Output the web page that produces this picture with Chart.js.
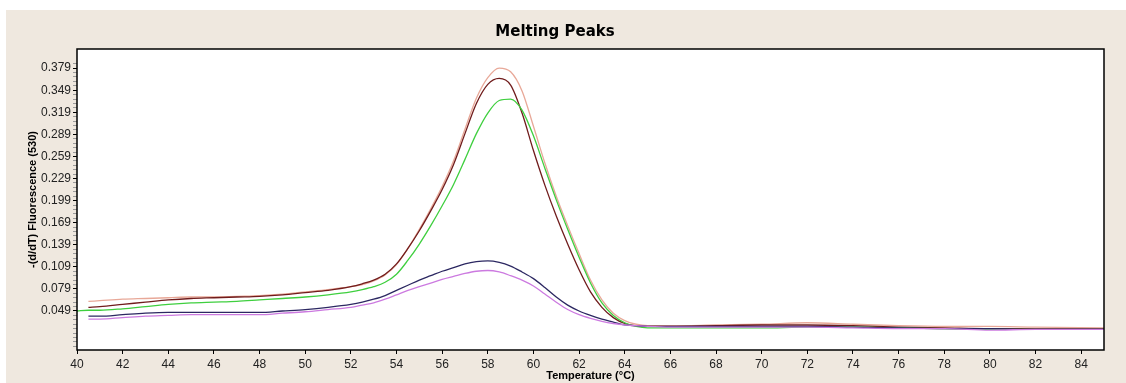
<!DOCTYPE html>
<html>
<head>
<meta charset="utf-8">
<title>Melting Peaks</title>
<script src="https://cdn.jsdelivr.net/npm/chart.js@4.4.1/dist/chart.umd.min.js"></script>
<style>
  html, body { margin: 0; padding: 0; background: #ffffff; }
  #frame { position: absolute; left: 6px; top: 10px; width: 1120px; height: 373px; background: #efe8df; }
  #chartMelt { display: block; }
</style>
</head>
<body>
<div id="frame"><canvas id="chartMelt" width="1120" height="373"></canvas></div>
<script>
// temperaturas (eje x) comunes a todas las curvas
var temps = [40, 40.5, 41, 42, 43, 44, 45, 46, 47, 48, 49, 50, 51, 52, 52.5, 53, 53.5, 54, 54.5, 55,
             55.5, 56, 56.5, 57, 57.5, 58, 58.5, 59, 59.5, 60, 60.5, 61, 61.5, 62, 62.5, 63, 63.5, 64, 64.5, 65,
             66, 68, 70, 72, 74, 76, 78, 80, 82, 85];

// -(d/dT) fluorescencia por muestra
var salmonVals = [null, 0.062, 0.063, 0.065, 0.066, 0.067, 0.068, 0.068, 0.069, 0.070, 0.072, 0.075, 0.078, 0.082, 0.085, 0.090,
                  0.098, 0.112, 0.134, 0.160, 0.188, 0.218, 0.253, 0.296, 0.338, 0.366, 0.379, 0.374, 0.348, 0.300, 0.250,
                  0.205, 0.165, 0.127, 0.091, 0.064, 0.046, 0.036, 0.031, 0.029, 0.029, 0.030, 0.031, 0.033, 0.031, 0.029,
                  0.028, 0.028, 0.027, 0.026];
var brownVals = [null, 0.054, 0.055, 0.058, 0.061, 0.064, 0.066, 0.067, 0.068, 0.069, 0.071, 0.074, 0.077, 0.082, 0.086, 0.091,
                 0.099, 0.113, 0.134, 0.158, 0.185, 0.214, 0.248, 0.290, 0.331, 0.357, 0.365, 0.356, 0.318, 0.267, 0.220,
                 0.178, 0.140, 0.105, 0.075, 0.054, 0.040, 0.032, 0.029, 0.028, 0.028, 0.029, 0.030, 0.030, 0.029, 0.027,
                 0.026, 0.025, 0.025, 0.025];
var greenVals = [0.049, 0.050, 0.050, 0.052, 0.055, 0.058, 0.060, 0.061, 0.062, 0.064, 0.066, 0.068, 0.071, 0.075, 0.078, 0.082,
                 0.088, 0.099, 0.118, 0.140, 0.165, 0.192, 0.221, 0.255, 0.290, 0.318, 0.335, 0.337, 0.322, 0.287, 0.243,
                 0.200, 0.160, 0.122, 0.087, 0.060, 0.043, 0.033, 0.028, 0.026, 0.026, 0.026, 0.026, 0.027, 0.027, 0.026,
                 0.025, 0.024, 0.024, 0.024];
var navyVals = [null, 0.042, 0.042, 0.044, 0.046, 0.047, 0.047, 0.047, 0.047, 0.047, 0.049, 0.051, 0.054, 0.058, 0.061, 0.065,
                0.070, 0.077, 0.084, 0.091, 0.097, 0.103, 0.108, 0.113, 0.116, 0.117, 0.115, 0.110, 0.102, 0.093, 0.081,
                0.068, 0.057, 0.049, 0.043, 0.038, 0.034, 0.030, 0.029, 0.028, 0.028, 0.028, 0.028, 0.028, 0.027, 0.026,
                0.025, 0.025, 0.024, 0.024];
var violetVals = [null, 0.038, 0.038, 0.040, 0.042, 0.043, 0.044, 0.044, 0.044, 0.044, 0.046, 0.048, 0.051, 0.054, 0.057, 0.060,
                  0.065, 0.071, 0.077, 0.082, 0.087, 0.092, 0.096, 0.100, 0.103, 0.104, 0.102, 0.097, 0.091, 0.083, 0.072,
                  0.061, 0.051, 0.044, 0.039, 0.035, 0.032, 0.030, 0.029, 0.028, 0.027, 0.027, 0.027, 0.027, 0.026, 0.025,
                  0.025, 0.023, 0.024, 0.024];

// marcas de los ejes
var xTicks = [40, 42, 44, 46, 48, 50, 52, 54, 56, 58, 60, 62, 64, 66, 68, 70, 72, 74, 76, 78, 80, 82, 84];
var yTicks = [0.049, 0.079, 0.109, 0.139, 0.169, 0.199, 0.229, 0.259, 0.289, 0.319, 0.349, 0.379];

function toPoints(vals) {
    var pts = [];
    for (var i = 0; i < temps.length; i++) {
        if (vals[i] !== null) pts.push({ x: temps[i], y: vals[i] });
    }
    return pts;
}

function serie(label, vals, color) {
    return {
        label: label,
        data: toPoints(vals),
        borderColor: color,
        borderWidth: 1.3,
        pointRadius: 0,
        fill: false,
        cubicInterpolationMode: 'monotone'
    };
}

// fondo blanco del area de trazado + marco negro
var plotFrame = {
    id: 'plotFrame',
    beforeDatasetsDraw: function (chart) {
        var a = chart.chartArea, ctx = chart.ctx;
        ctx.save();
        ctx.fillStyle = '#ffffff';
        ctx.fillRect(a.left, a.top, a.right - a.left, a.bottom - a.top);
        ctx.restore();
    },
    afterDraw: function (chart) {
        var a = chart.chartArea, ctx = chart.ctx;
        ctx.save();
        ctx.strokeStyle = '#000000';
        ctx.lineWidth = 1.5;
        ctx.strokeRect(a.left, a.top, a.right - a.left, a.bottom - a.top);
        ctx.restore();
    }
};

var chartInstance = new Chart(document.getElementById('chartMelt'), {
    type: 'line',
    data: {
        datasets: [
            serie('5', violetVals, '#cc7ae0'),
            serie('4', navyVals, '#2c2862'),
            serie('3', greenVals, '#3fcf3f'),
            serie('2', brownVals, '#701c1c'),
            serie('1', salmonVals, '#e8a898')
        ]
    },
    options: {
        responsive: false,
        animation: false,
        layout: { padding: { left: 0, right: 22, top: 0, bottom: 0 } },
        plugins: {
            legend: { display: false },
            tooltip: { enabled: false },
            title: {
                display: true,
                text: 'Melting Peaks',
                color: '#000000',
                font: { family: 'DejaVu Sans', size: 15, weight: 'bold' },
                padding: { top: 13, bottom: 8 }
            }
        },
        scales: {
            x: {
                type: 'linear',
                min: 40,
                max: 85,
                afterBuildTicks: function (scale) {
                    scale.ticks = xTicks.map(function (v) { return { value: v }; });
                },
                afterFit: function (scale) { scale.height = 33; },
                grid: { drawOnChartArea: false, tickLength: 4, color: '#000000' },
                border: { display: false },
                ticks: {
                    padding: 3,
                    maxRotation: 0,
                    autoSkip: false,
                    color: '#222222',
                    font: { family: 'Liberation Sans', size: 12 }
                },
                title: {
                    display: true,
                    text: 'Temperature (°C)',
                    color: '#000000',
                    font: { family: 'Liberation Sans', size: 11, weight: 'bold' },
                    padding: { top: 0, bottom: 0 }
                }
            },
            y: {
                type: 'linear',
                min: -0.004,
                max: 0.405,
                afterBuildTicks: function (scale) {
                    var t = [];
                    for (var k = -8; k <= 56; k++) {
                        var v = Math.round((0.049 + k * 0.006) * 1000) / 1000;
                        if (v > -0.004 && v < 0.405) t.push({ value: v });
                    }
                    scale.ticks = t;
                },
                afterFit: function (scale) { scale.width = 71; },
                grid: {
                    drawOnChartArea: false,
                    tickLength: 4,
                    color: function (c) {
                        var v = c.tick ? c.tick.value : 0;
                        return yTicks.indexOf(v) >= 0 ? '#000000' : '#9a9a9a';
                    }
                },
                border: { display: false },
                ticks: {
                    padding: 2,
                    autoSkip: false,
                    color: '#222222',
                    font: { family: 'Liberation Sans', size: 12 },
                    callback: function (v) {
                        var r = Math.round(v * 1000) / 1000;
                        return yTicks.indexOf(r) >= 0 ? r.toFixed(3) : '';
                    }
                },
                title: {
                    display: true,
                    text: '-(d/dT) Fluorescence (530)',
                    color: '#000000',
                    font: { family: 'Liberation Sans', size: 11, weight: 'bold' },
                    padding: { top: 20, bottom: 0 }
                }
            }
        }
    },
    plugins: [plotFrame]
});
</script>
</body>
</html>
